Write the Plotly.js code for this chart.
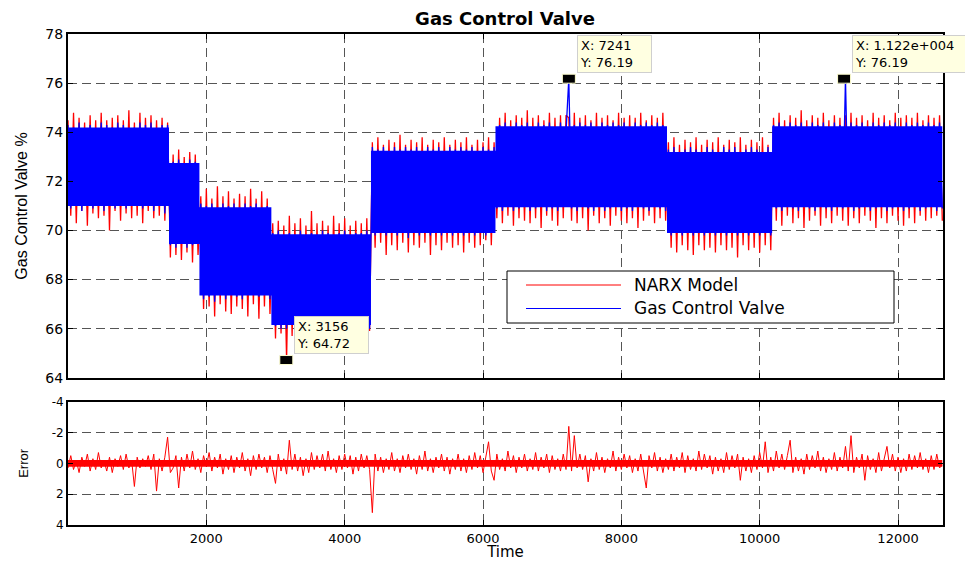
<!DOCTYPE html>
<html>
<head>
<meta charset="utf-8">
<script src="https://cdn.plot.ly/plotly-3.0.1.min.js"></script>
<style>html,body{margin:0;padding:0;background:#fff;}#chart{width:965px;height:561px;}</style>
</head>
<body>
<div id="chart"></div>
<script>
// ---------- data ----------
// one plotted point every 40 time samples
const sampleStep = 40;

// Gas Control Valve (measured), by operating segment
const valveSeg1 = [74.3,70.9,74.2,71.1,74.4,70.8,74.1,71.0,74.3,70.9,73.8,71.2,74.4,70.8,74.3,71.0,74.2,70.9,74.4,71.3,74.3,70.9,74.0,71.6,74.2,71.5,74.4,70.9,74.3,71.0,74.4,70.8,74.1,71.1,74.3,70.7,74.3];
const valveSeg2 = [69.4,72.8,69.3,72.9,69.5,72.7,69.3,72.9,69.4,72.8,69.6];
const valveSeg3 = [71.1,67.2,71.0,67.3,71.1,67.1,70.9,67.4,71.1,67.2,71.0,67.5,71.1,67.3,70.8,67.2,71.1,67.4,71.0,67.6,71.1,67.3,70.9,67.5,71.0,67.2];
const valveSeg4 = [69.9,66.1,70.0,66.0,69.8,66.0,69.9,66.2,69.8,66.1,70.0,66.3,69.7,66.0,69.9,66.2,69.8,66.1,70.0,66.4,69.9,66.2,69.8,66.0,69.9,66.3,70.0,66.1,69.8,66.2,69.9,66.0,69.9,66.1,70.0,66.0];
const valveSeg5 = [73.4,69.8,73.3,69.9,73.4,69.8,73.2,70.0,73.4,69.8,73.3,69.9,73.4,69.7,73.3,69.9,73.4,69.8,73.1,70.0,73.4,69.8,73.3,69.9,73.4,69.8,73.2,69.9,73.4,69.8,73.3,70.1,73.4,69.8,73.3,69.9,73.4,69.8,73.2,69.9,73.4,69.8,73.3,69.9,73.4];
const valveSeg6 = [70.9,74.3,70.8,74.4,71.0,74.2,70.8,74.4,70.9,74.3,71.1,74.4,70.8,74.2,70.9,74.4,71.0,74.3,70.8,74.4,70.9,74.1,70.8,74.4,71.0,74.0,76.19,70.9,74.3,70.8,74.4,71.0,74.3,70.9,74.4,70.8,74.2,71.1,74.4,70.8,74.3,70.9,74.4,71.0,74.3,70.8,74.4,70.9,74.2,70.8,74.4,71.0,74.3,70.9,74.4,70.8,74.3,71.0,74.4,70.9,74.3,70.8];
const valveSeg7 = [73.3,69.8,73.4,69.9,73.2,69.8,73.3,70.0,73.4,69.8,73.3,69.9,73.1,69.8,73.4,69.9,73.3,69.8,73.2,70.1,73.4,69.8,73.3,69.9,73.4,69.8,73.2,69.9,73.3,69.8,73.4,70.0,73.3,69.8,73.2,69.9,73.4,69.8];
const valveSeg8 = [74.3,70.9,74.4,70.8,74.2,71.0,74.4,70.9,74.3,70.8,74.4,71.1,74.2,70.9,74.4,70.8,74.3,71.0,74.4,70.9,74.1,70.8,74.4,71.2,74.3,70.9,76.19,71.0,74.4,70.8,74.3,70.9,74.4,71.0,74.2,70.8,74.4,70.9,74.3,71.1,74.4,70.8,74.3,70.9,74.4,71.0,74.2,70.8,74.4,70.9,74.3,71.0,74.4,70.8,74.3,70.9,74.4,71.0,74.3,70.8,74.4,70.9];

// NARX Model output, by operating segment
const narxSeg1 = [74.5,70.6,74.8,70.3,74.6,70.8,74.4,70.2,74.7,70.7,74.5,70.5,74.8,70.6,74.5,70.0,74.6,70.8,74.7,70.4,74.5,70.7,74.9,70.5,74.4,70.6,74.8,70.3,74.6,70.8,74.7,70.5,74.5,70.6,74.6,70.4,74.4];
const narxSeg2 = [68.9,73.1,69.0,73.3,68.8,73.0,69.1,73.2,68.7,73.1,69.0];
const narxSeg3 = [71.4,66.8,71.7,66.9,71.3,66.5,71.8,67.0,71.4,66.7,71.6,66.6,71.3,66.9,71.5,66.8,71.4,66.5,71.7,67.0,71.3,66.4,71.6,66.9,71.3,66.6];
const narxSeg4 = [70.3,65.6,70.4,65.8,70.2,64.72,70.6,65.7,70.3,65.5,70.5,65.9,70.2,65.6,70.8,65.8,70.3,65.7,70.4,65.9,70.2,65.6,70.6,65.8,70.3,65.7,70.5,65.9,70.2,65.6,70.4,65.8,70.3,65.7,70.5,65.9];
const narxSeg5 = [73.6,69.3,73.8,69.5,73.5,69.0,73.7,69.4,73.6,69.2,73.9,69.5,73.5,69.1,73.7,69.4,73.6,69.3,73.8,69.5,73.5,69.0,73.7,69.4,73.6,69.2,73.8,69.5,73.5,69.3,73.7,69.4,73.6,69.1,73.8,69.5,73.5,69.3,73.7,69.4,73.6,69.6,73.8,69.4,73.6];
const narxSeg6 = [70.5,74.6,70.3,74.8,70.6,74.5,70.2,74.7,70.5,74.6,70.4,74.9,70.3,74.6,70.5,74.7,70.1,74.5,70.6,74.8,70.4,74.6,70.2,74.7,70.5,74.7,74.6,70.4,74.8,70.3,74.6,70.5,74.7,70.0,74.5,70.6,74.8,70.3,74.6,70.5,74.7,70.2,74.5,70.6,74.8,70.4,74.6,70.3,74.7,70.5,74.6,70.1,74.8,70.4,74.5,70.6,74.7,70.3,74.6,70.5,74.8,70.4];
const narxSeg7 = [73.6,69.3,73.8,69.1,73.5,69.4,73.7,69.2,73.6,69.0,73.8,69.4,73.5,69.2,73.7,69.3,73.6,69.1,73.8,69.4,73.5,69.2,73.7,69.3,73.6,68.9,73.8,69.4,73.5,69.2,73.7,69.3,73.6,69.1,73.8,69.4,73.5,69.2];
const narxSeg8 = [74.6,70.4,74.8,70.2,74.5,70.6,74.7,70.3,74.6,70.5,74.9,70.1,74.5,70.4,74.7,70.6,74.6,70.2,74.8,70.5,74.5,70.3,74.7,70.6,74.6,70.4,74.7,70.2,74.8,70.5,74.6,70.3,74.7,70.6,74.5,70.4,74.8,70.1,74.6,70.5,74.7,70.3,74.5,70.6,74.8,70.4,74.6,70.2,74.7,70.5,74.6,70.3,74.8,70.6,74.5,70.4,74.7,70.5,74.6,70.6,74.7,70.4];

// dense core of the valve signal in each operating segment (where the trace is solid blue)
const segmentEdges = [0, 1460, 1900, 2940, 4380, 6180, 8660, 10180, 12640];
const valveCoreLow  = [71.0, 69.45, 67.35, 66.15, 69.9, 70.95, 69.9, 70.95];
const valveCoreHigh = [74.2, 72.75, 70.95, 69.85, 73.25, 74.25, 73.2, 74.25];

// prediction error (lower panel)
const errorValues = [
0.3,-0.5,0.4,-0.2,0.6,-0.4,0.2,-0.6,0.5,-0.3,0.4,-0.7,0.3,-0.2,0.5,-0.4,0.6,-0.3,0.2,-0.5,
0.4,-0.6,0.3,-0.2,1.5,-0.4,0.3,-0.3,0.2,-0.5,0.4,-0.6,1.8,-0.3,0.5,-0.4,-1.7,0.6,0.3,-0.5,
1.6,-0.4,0.5,-0.6,0.3,-0.8,0.4,-0.3,0.6,-0.5,0.2,-0.7,0.5,-0.4,0.3,-0.6,0.7,-0.3,0.4,-0.5,
0.6,-0.4,0.3,-0.7,0.5,-0.3,0.8,-0.5,0.4,-0.6,0.3,-0.4,0.6,-0.5,0.4,1.3,-0.6,0.5,-0.3,0.7,
-1.5,0.4,-0.6,0.5,-0.4,0.8,-0.3,0.6,-0.7,0.4,-0.5,0.3,-0.6,0.5,-0.8,0.4,-0.3,0.6,-0.5,0.4,
-0.6,0.3,-0.5,0.7,-0.4,0.5,-0.6,0.3,-0.5,0.4,3.2,-0.6,0.5,-0.4,0.6,-0.3,0.4,-0.7,0.5,-0.3,
0.6,-0.5,0.3,-0.6,0.4,-0.3,0.7,-0.5,0.4,-0.8,0.5,-0.3,0.6,-0.4,0.3,-0.6,0.5,-0.4,0.7,-0.3,
0.4,-0.6,0.5,-0.3,0.6,-0.5,0.4,-0.7,0.3,-0.5,0.6,-0.4,-1.4,0.5,1.1,-0.6,0.4,-0.3,0.5,-0.8,
0.3,-0.5,0.6,-0.4,0.3,-0.6,0.5,-0.3,0.4,-0.7,0.5,-0.4,0.3,-0.6,0.6,-0.5,0.4,-0.3,0.5,-0.6,
0.4,-2.4,0.5,-1.8,0.3,-0.6,0.4,-0.5,1.2,-0.3,0.5,-0.7,0.4,-0.4,0.6,-0.3,0.3,-0.8,0.5,-0.4,
0.4,-0.6,0.3,-0.5,0.6,-0.3,0.5,-0.6,0.4,1.6,-0.5,0.3,-0.7,0.5,-0.4,0.6,-0.3,0.4,-0.6,0.5,
-0.4,0.3,-0.7,0.6,-0.5,0.4,-0.3,0.5,-0.8,0.4,-0.6,0.3,-0.5,0.7,-0.4,0.5,-0.3,0.6,-0.7,0.4,
-0.5,0.3,-0.6,1.1,-0.4,0.5,-0.3,0.6,-0.5,0.4,-0.7,0.3,-1.4,0.6,-0.4,0.5,-0.8,0.3,-0.6,0.4,
-0.5,-1.5,0.6,-0.4,0.5,-0.3,0.7,-0.6,0.4,-0.5,0.3,-0.8,0.5,-0.4,0.6,-0.3,0.4,-0.7,0.5,-0.4,
0.3,-1.1,0.5,-1.8,0.6,-0.4,0.3,-0.6,1.1,-0.5,0.4,-0.3,0.6,-0.7,0.5,-0.4,-1.1,0.3,-0.6,0.5,
-0.4,0.6,-0.3,0.5,-0.6,0.4,-0.5,0.3,-0.7,0.4,-0.3,0.6,-0.5,0.4,-0.6,0.3,0.1];
// dense core of the error trace
const errorCoreEdges = [0, 12640];
const errorCoreLow  = [-0.22];
const errorCoreHigh = [0.22];

// axis ticks
const timeTickVals = [2000, 4000, 6000, 8000, 10000, 12000];
const timeTickText = ['2000', '4000', '6000', '8000', '10000', '12000'];
const valveTickVals = [64, 66, 68, 70, 72, 74, 76, 78];
const errorTickVals = [-4, -2, 0, 2, 4];
const errorTickText = ['-4', '-2', '0', '2', '4'];

// data tips
const tipX = [7241, 11220, 3156];
const tipY = [76.19, 76.19, 64.72];
const tipXText = ['7241', '1.122e+004', '3156'];
const tipYText = ['76.19', '76.19', '64.72'];

// series names
const seriesNames = ['NARX Model', 'Gas Control Valve'];
const seriesColors = ['#ff0000', '#0000ff'];

// ---------- build ----------
const valve = [].concat(valveSeg1, valveSeg2, valveSeg3, valveSeg4, valveSeg5, valveSeg6, valveSeg7, valveSeg8);
const narx = [].concat(narxSeg1, narxSeg2, narxSeg3, narxSeg4, narxSeg5, narxSeg6, narxSeg7, narxSeg8);
const tValve = valve.map((_, i) => i * sampleStep);
const tNarx = narx.map((_, i) => i * sampleStep);
const tErr = errorValues.map((_, i) => i * sampleStep);

// polygon of a stepwise band (upper edge left->right, lower edge right->left)
function bandPolygon(edges, lo, hi) {
  const xs = [], ys = [];
  for (let k = 0; k < lo.length; k++) { xs.push(edges[k], edges[k + 1]); ys.push(hi[k], hi[k]); }
  for (let k = lo.length - 1; k >= 0; k--) { xs.push(edges[k + 1], edges[k]); ys.push(lo[k], lo[k]); }
  return {x: xs, y: ys};
}
const valveCore = bandPolygon(segmentEdges, valveCoreLow, valveCoreHigh);
const errorCore = bandPolygon(errorCoreEdges, errorCoreLow, errorCoreHigh);

const W = 965, H = 561;
const M = {l: 68, r: 22, t: 34, b: 36};
const PW = W - M.l - M.r, PH = H - M.t - M.b;
const px2x = p => (p - M.l) / PW;
const px2y = p => (H - M.b - p) / PH;

const traces = [
  {x: tNarx, y: narx, xaxis: 'x2', yaxis: 'y2', type: 'scatter', mode: 'lines', name: seriesNames[0],
   line: {color: seriesColors[0], width: 1.3}, hoverinfo: 'skip'},
  {x: valveCore.x, y: valveCore.y, xaxis: 'x2', yaxis: 'y2', type: 'scatter', mode: 'lines', fill: 'toself',
   fillcolor: seriesColors[1], line: {width: 0, color: seriesColors[1]}, hoverinfo: 'skip', showlegend: false, name: 'valve core'},
  {x: tValve, y: valve, xaxis: 'x2', yaxis: 'y2', type: 'scatter', mode: 'lines', name: seriesNames[1],
   line: {color: seriesColors[1], width: 1.3}, hoverinfo: 'skip'},
  {x: errorCore.x, y: errorCore.y, xaxis: 'x', yaxis: 'y', type: 'scatter', mode: 'lines', fill: 'toself',
   fillcolor: '#ff0000', line: {width: 0, color: '#ff0000'}, hoverinfo: 'skip', showlegend: false, name: 'error core'},
  {x: tErr, y: errorValues, xaxis: 'x', yaxis: 'y', type: 'scatter', mode: 'lines', name: 'Error',
   line: {color: '#ff0000', width: 1}, hoverinfo: 'skip', showlegend: false}
];

const gridStyle = {
  showgrid: true, gridcolor: '#555', gridwidth: 1, griddash: '9px,5px',
  showline: true, linecolor: '#000', linewidth: 2, mirror: 'ticks',
  ticks: 'inside', ticklen: 5, tickwidth: 1, tickcolor: '#000', zeroline: false
};

const shapes = [];
const annotations = [];

// legend drawn as a box with sample lines
shapes.push({type: 'rect', xref: 'paper', yref: 'paper', x0: px2x(507), x1: px2x(894), y0: px2y(323), y1: px2y(271),
  line: {color: '#000', width: 1}, fillcolor: '#fff', layer: 'above'});
const legendY = [285, 308.5];
seriesNames.forEach((n, k) => {
  shapes.push({type: 'line', xref: 'paper', yref: 'paper', x0: px2x(526), x1: px2x(621), y0: px2y(legendY[k]), y1: px2y(legendY[k]),
    line: {color: seriesColors[k], width: 1}, layer: 'above'});
  annotations.push({xref: 'paper', yref: 'paper', x: px2x(632), y: px2y(legendY[k]), xanchor: 'left', yanchor: 'middle',
    text: n, showarrow: false, font: {family: 'DejaVu Sans', size: 17, color: '#000'}});
});

// data tips
tipX.forEach((xv, k) => {
  shapes.push({type: 'rect', xref: 'x2', yref: 'y2', xsizemode: 'pixel', ysizemode: 'pixel',
    xanchor: xv, yanchor: tipY[k], x0: -6.5, x1: 6.5, y0: -4.5, y1: 4.5,
    fillcolor: '#000', line: {color: '#ffffd0', width: 1}, layer: 'above'});
  annotations.push({xref: 'x2', yref: 'y2', x: xv, y: tipY[k], xanchor: 'left', yanchor: 'bottom',
    xshift: 8, yshift: 6, showarrow: false, align: 'left',
    text: 'X: ' + tipXText[k] + '<br>Y: ' + tipYText[k],
    width: k === 1 ? 110 : 69, bgcolor: '#ffffe1', bordercolor: '#cfcfcf', borderwidth: 1, borderpad: 2,
    font: {family: 'DejaVu Sans', size: 13, color: '#000'}});
});

const layout = {
  width: W, height: H,
  margin: {l: M.l, r: M.r, t: M.t, b: M.b, pad: 0},
  paper_bgcolor: '#fff', plot_bgcolor: '#fff',
  showlegend: false,
  font: {family: 'DejaVu Sans, sans-serif', color: '#000'},
  title: {text: '<b>Gas Control Valve</b>', font: {family: 'DejaVu Sans', size: 18, color: '#000'},
    x: px2x(505), xref: 'paper', xanchor: 'center', y: 1 - 18.5 / H, yref: 'container', yanchor: 'middle'},
  xaxis: Object.assign({}, gridStyle, {
    domain: [0, 1], anchor: 'y', range: [0, 12650],
    tickmode: 'array', tickvals: timeTickVals, ticktext: timeTickText,
    tickfont: {family: 'DejaVu Sans', size: 13, color: '#000'},
    title: {text: 'Time', font: {family: 'DejaVu Sans', size: 15, color: '#000'}, standoff: 11}
  }),
  yaxis: Object.assign({}, gridStyle, {
    domain: [0, px2y(401.7)], anchor: 'x', range: [4, -4],
    tickmode: 'array', tickvals: errorTickVals, ticktext: errorTickText,
    tickfont: {family: 'DejaVu Sans', size: 12, color: '#000'},
    title: {text: 'Error', font: {family: 'Liberation Sans', size: 13, color: '#000'}, standoff: 20}
  }),
  xaxis2: Object.assign({}, gridStyle, {
    domain: [0, 1], anchor: 'y2', range: [0, 12650], matches: 'x',
    tickmode: 'array', tickvals: timeTickVals, ticktext: timeTickText, showticklabels: false
  }),
  yaxis2: Object.assign({}, gridStyle, {
    domain: [px2y(377.7), px2y(34.3)], anchor: 'x2', range: [64, 78],
    tickmode: 'array', tickvals: valveTickVals,
    tickfont: {family: 'DejaVu Sans', size: 14, color: '#000'},
    title: {text: 'Gas Control Valve %', font: {family: 'Liberation Sans', size: 16, color: '#000'}, standoff: 14}
  }),
  shapes: shapes,
  annotations: annotations
};

Plotly.newPlot('chart', traces, layout, {displayModeBar: false, staticPlot: true});
</script>
</body>
</html>
